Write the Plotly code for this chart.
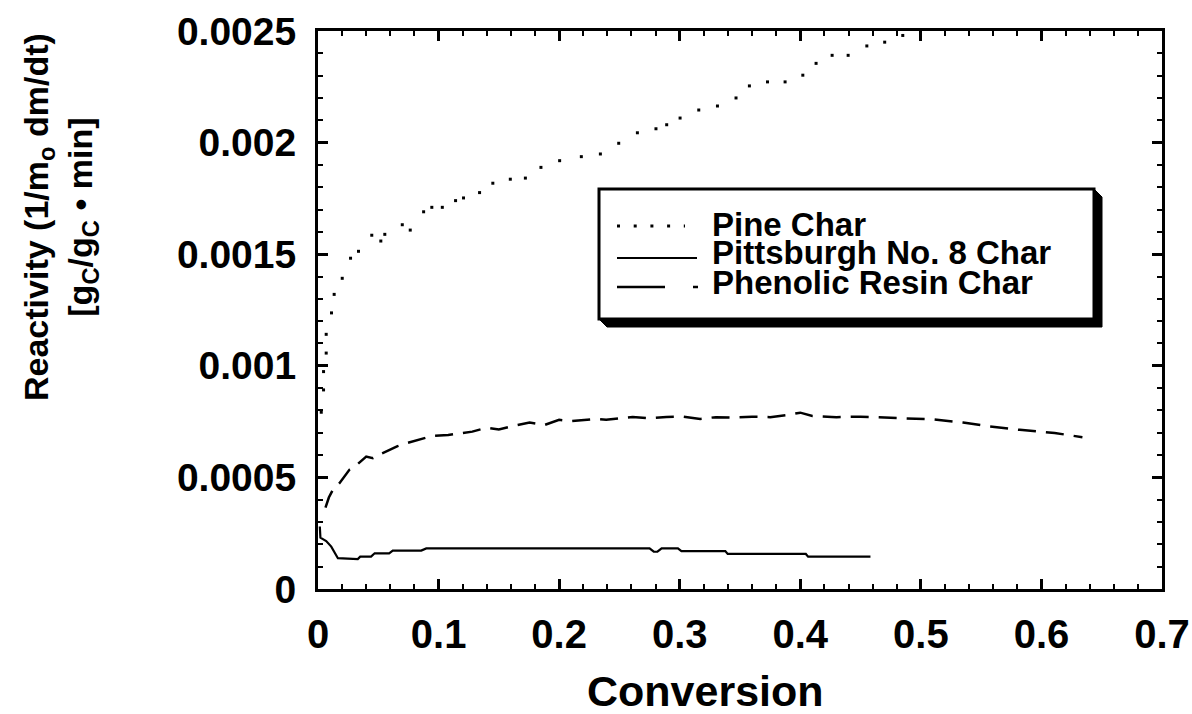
import plotly.graph_objects as go

# ---------------- data ----------------
pine_x = [0.0027, 0.0046, 0.0046, 0.0068, 0.0068, 0.0112, 0.0134, 0.0201, 0.027, 0.0336,
          0.0446, 0.0521, 0.0554, 0.0699, 0.0765, 0.0876, 0.0944, 0.1031, 0.1141, 0.1207,
          0.134, 0.145, 0.1595, 0.172, 0.1849, 0.2004, 0.2184, 0.2342, 0.2494, 0.2649,
          0.2803, 0.2892, 0.3003, 0.3158, 0.3313, 0.3467, 0.3578, 0.3728, 0.3874, 0.4021,
          0.4131, 0.4264, 0.4397, 0.4552, 0.470, 0.485]
pine_y = [0.000792, 0.000892, 0.000974, 0.001057, 0.001141, 0.001237, 0.00132, 0.001392, 0.001482, 0.001513,
          0.001585, 0.001559, 0.001589, 0.001632, 0.001608, 0.00169, 0.00171, 0.00171, 0.00174, 0.001752,
          0.001776, 0.001818, 0.001836, 0.001841, 0.001889, 0.001919, 0.001937, 0.001949, 0.001997, 0.002044,
          0.002062, 0.00208, 0.00211, 0.002146, 0.002164, 0.0022, 0.002254, 0.002272, 0.002272, 0.002302,
          0.002355, 0.002391, 0.002391, 0.002433, 0.00245, 0.00248]

pitt_x = [0.0015, 0.002, 0.0068, 0.011, 0.0165, 0.033, 0.035, 0.044, 0.047, 0.059, 0.062, 0.0856,
          0.0898, 0.275, 0.2785, 0.2815, 0.285, 0.2985, 0.3014, 0.3378, 0.3398, 0.4046, 0.4065, 0.4582]
pitt_y = [0.00028, 0.00023, 0.000215, 0.00019, 0.000138, 0.000134, 0.000145, 0.000145, 0.00016, 0.00016,
          0.000172, 0.000172, 0.000182, 0.000182, 0.000167, 0.000167, 0.000182, 0.000182, 0.00017, 0.00017,
          0.000157, 0.000157, 0.000145, 0.000145]

phen_x = [0.0062, 0.009, 0.0123, 0.0178, 0.026, 0.033, 0.040, 0.0455, 0.052, 0.058, 0.066, 0.073,
          0.083, 0.095, 0.108, 0.118, 0.128, 0.140, 0.150, 0.160, 0.1755, 0.188, 0.200, 0.21,
          0.22, 0.23, 0.239, 0.25, 0.261, 0.275, 0.289, 0.302, 0.317, 0.33, 0.345, 0.36,
          0.375, 0.39, 0.40, 0.41, 0.43, 0.45, 0.47, 0.49, 0.51, 0.535, 0.557, 0.582, 0.611, 0.634]
phen_y = [0.000365, 0.00041, 0.000444, 0.000474, 0.000534, 0.00056, 0.000593, 0.000586, 0.000605, 0.00062,
          0.00064, 0.000653, 0.000668, 0.000686, 0.00069, 0.000698, 0.000705, 0.000723, 0.000715, 0.000728,
          0.000746, 0.000735, 0.000758, 0.000752, 0.000758, 0.000762, 0.000758, 0.000766, 0.000771, 0.000765,
          0.000771, 0.000773, 0.000762, 0.00077, 0.000768, 0.000772, 0.00077, 0.00078, 0.00079, 0.000775,
          0.00077, 0.000772, 0.000768, 0.000765, 0.00076, 0.000746, 0.000728, 0.000713, 0.000699, 0.00068]

series_names = ["Pine Char", "Pittsburgh No. 8 Char", "Phenolic Resin Char"]

x_tickvals = [0, 0.1, 0.2, 0.3, 0.4, 0.5, 0.6, 0.7]
x_ticktext = ["0", "0.1", "0.2", "0.3", "0.4", "0.5", "0.6", "0.7"]
y_tickvals = [0, 0.0005, 0.001, 0.0015, 0.002, 0.0025]
y_ticktext = ["0", "0.0005", "0.001", "0.0015", "0.002", "0.0025"]

# ---------------- layout geometry ----------------
W, H = 1192, 714
ML, MR, MT, MB = 318, 30, 31, 125
PW, PH = W - ML - MR, H - MT - MB


def px(xp):
    return (xp - ML) / PW


def py(yp):
    return (H - MB - yp) / PH


FONT = "Liberation Sans, Arial, sans-serif"

fig = go.Figure()
fig.add_trace(go.Scatter(x=pine_x, y=pine_y, mode="markers", name=series_names[0],
                         marker=dict(symbol="square", size=3, color="black"),
                         showlegend=False, cliponaxis=True))
fig.add_trace(go.Scatter(x=pitt_x, y=pitt_y, mode="lines", name=series_names[1],
                         line=dict(color="black", width=2.2), showlegend=False))
fig.add_trace(go.Scatter(x=phen_x, y=phen_y, mode="lines", name=series_names[2],
                         line=dict(color="black", width=2.5, dash="18px,10px"), showlegend=False))

axis_common = dict(showline=True, linewidth=3, linecolor="black", mirror="ticks",
                   ticks="inside", ticklen=10, tickwidth=3, tickcolor="black",
                   showgrid=False, zeroline=False, automargin=False)

fig.update_xaxes(range=[0, 0.7], tickvals=x_tickvals, ticktext=x_ticktext,
                 tickfont=dict(family=FONT, size=40, color="black", weight="bold"),
                 ticklabelstandoff=8,
                 minor=dict(ticks="inside", ticklen=5, tickwidth=2, tickcolor="black", dtick=0.02, tick0=0),
                 **axis_common)
fig.update_yaxes(range=[0, 0.0025], tickvals=y_tickvals, ticktext=y_ticktext,
                 tickfont=dict(family=FONT, size=39, color="black", weight="bold"),
                 ticklabelstandoff=11,
                 minor=dict(ticks="inside", ticklen=5, tickwidth=2, tickcolor="black", dtick=0.0001, tick0=0),
                 **axis_common)

shapes = []
# legend shadow (bevelled 3D shadow)
bx0, by0, bx1, by1, off = 599, 189, 1094, 319, 8
shadow_path = ("M {a},{b} L {c},{d} L {c},{e} L {f},{e} L {g},{h} L {a},{h} Z").format(
    a=px(bx1), b=py(by0), c=px(bx1 + off), d=py(by0 + off), e=py(by1 + off),
    f=px(bx0 + off), g=px(bx0), h=py(by1))
shapes.append(dict(type="path", xref="paper", yref="paper", path=shadow_path,
                   fillcolor="black", line=dict(color="black", width=1)))
shapes.append(dict(type="rect", xref="paper", yref="paper", x0=px(bx0), x1=px(bx1),
                   y0=py(by1), y1=py(by0), fillcolor="white", line=dict(color="black", width=3)))
# legend samples
sx0, sx1 = 617, 699
rows = [226, 258, 287]
shapes.append(dict(type="line", xref="paper", yref="paper", x0=px(sx0), x1=px(sx1 - 14), y0=py(rows[0]), y1=py(rows[0]),
                   line=dict(color="black", width=3, dash="3px,13.7px")))
shapes.append(dict(type="line", xref="paper", yref="paper", x0=px(sx0), x1=px(sx1 - 2), y0=py(rows[1]), y1=py(rows[1]),
                   line=dict(color="black", width=2.2)))
shapes.append(dict(type="line", xref="paper", yref="paper", x0=px(sx0), x1=px(sx1), y0=py(rows[2]), y1=py(rows[2]),
                   line=dict(color="black", width=2.5, dash="48px,28px,5px,40px")))

annotations = []
text_rows = [224, 252, 282]
for name, ty in zip(series_names, text_rows):
    annotations.append(dict(text=name, xref="paper", yref="paper", x=px(710), y=py(ty),
                            xanchor="left", yanchor="middle", showarrow=False,
                            font=dict(family=FONT, size=33, color="black", weight="bold")))
# axis titles
annotations.append(dict(text="Conversion", xref="paper", yref="paper", x=px(705), y=py(691),
                        xanchor="center", yanchor="middle", showarrow=False,
                        font=dict(family=FONT, size=43, color="black", weight="bold")))
annotations.append(dict(text="Reactivity (1/m<sub>o</sub> dm/dt)<br>[g<sub>C</sub>/g<sub>C</sub> • min]",
                        xref="paper", yref="paper", x=px(60), y=py(217), textangle=-90,
                        xanchor="center", yanchor="middle", showarrow=False,
                        font=dict(family=FONT, size=34, color="black", weight="bold")))

fig.update_layout(width=W, height=H, margin=dict(l=ML, r=MR, t=MT, b=MB, autoexpand=False),
                  paper_bgcolor="white", plot_bgcolor="white",
                  shapes=shapes, annotations=annotations, showlegend=False)

fig.write_html("out.html", config={"displayModeBar": False},
               post_script="document.body.style.margin='0';document.body.style.padding='0';")
